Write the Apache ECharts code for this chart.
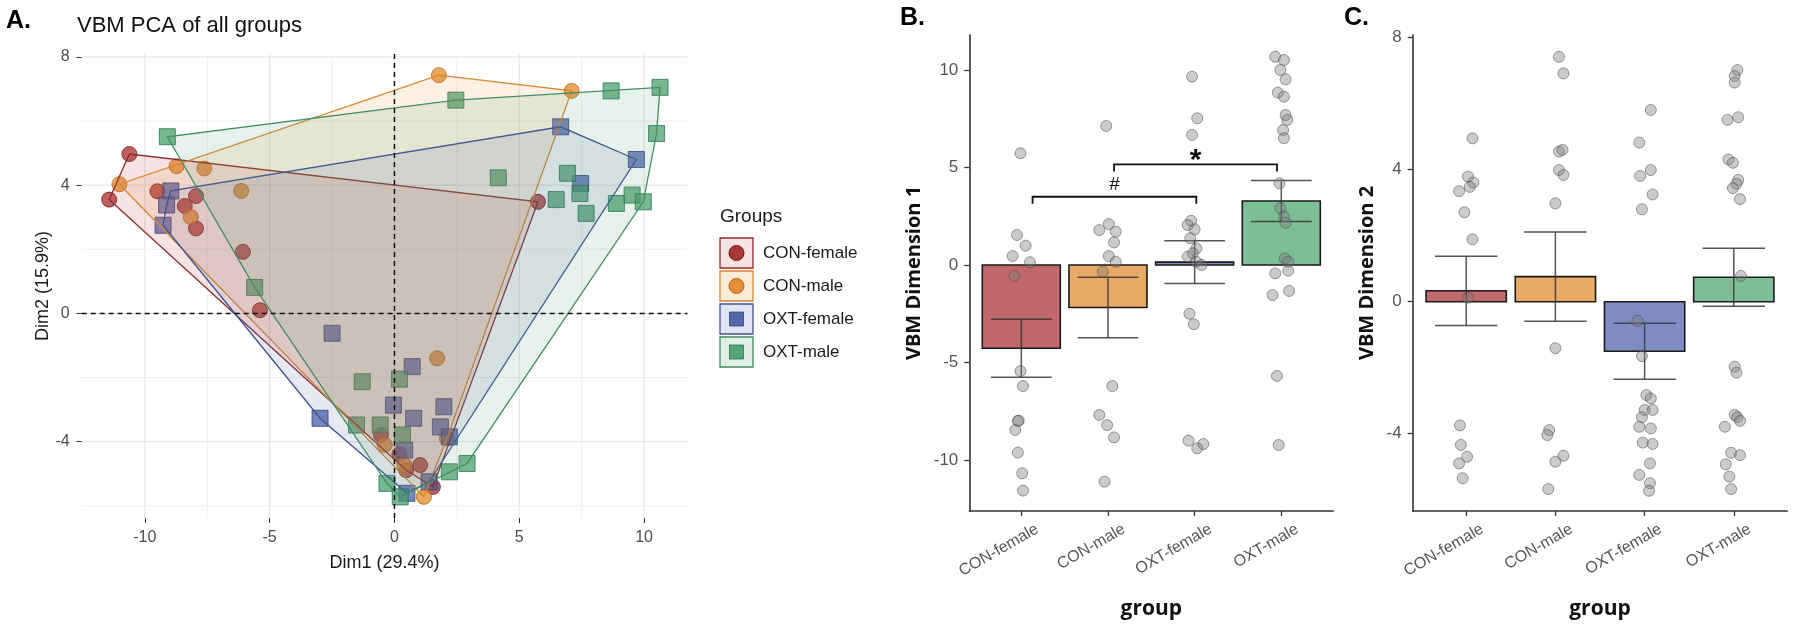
<!DOCTYPE html>
<html><head><meta charset="utf-8">
<script src="https://cdn.jsdelivr.net/npm/echarts@6/dist/echarts.min.js"></script>
<style>html,body{margin:0;padding:0;background:#fff}#c{width:1800px;height:630px}</style>
</head><body><div id="c"></div>
<script>
// ---------- data ----------
const groups = ['CON-female', 'CON-male', 'OXT-female', 'OXT-male'];

// Panel A: PCA individuals [Dim1, Dim2]
const pcaConFemale = [[-10.62,4.97],[-11.43,3.55],[-9.5,3.81],[-7.95,3.66],[-8.4,3.35],[-7.95,2.65],[-6.07,1.92],[-5.39,0.1],[5.75,3.48],[-0.54,-3.79],[0.2,-4.39],[1.03,-4.73],[0.47,-4.89],[1.54,-5.41]];
const pcaConMale = [[1.78,7.43],[7.1,6.94],[-11.02,4.03],[-8.73,4.59],[-7.62,4.52],[-6.14,3.82],[-8.16,3.01],[1.71,-1.4],[2.1,-3.9],[-0.39,-4.1],[1.18,-5.72],[0.4,-4.72]];
const pcaOxtFemale = [[6.66,5.82],[9.69,4.8],[7.46,4.05],[-8.96,3.82],[-9.13,3.38],[-9.27,2.75],[-2.5,-0.62],[0.71,-1.66],[-0.04,-2.86],[1.98,-2.91],[0.77,-3.27],[-2.98,-3.27],[1.84,-3.54],[2.2,-3.85],[0.41,-4.26],[0.5,-5.61],[1.39,-5.25]];
const pcaOxtMale = [[-9.1,5.51],[2.46,6.65],[8.68,6.94],[10.64,7.05],[10.5,5.61],[4.16,4.23],[6.93,4.37],[7.43,3.74],[6.48,3.55],[7.68,3.12],[8.89,3.43],[9.52,3.69],[9.97,3.48],[-5.6,0.81],[-1.29,-2.13],[0.2,-2.05],[-1.52,-3.48],[-0.57,-3.48],[0.32,-3.79],[2.91,-4.68],[2.2,-4.94],[-0.3,-5.3],[0.23,-5.72]];
const pcaXTicks = [-10, -5, 0, 5, 10];
const pcaYTicks = [-4, 0, 4, 8];
const pcaXGrid = [-10, -7.5, -5, -2.5, 0, 2.5, 5, 7.5, 10];
const pcaYGrid = [-6, -4, -2, 0, 2, 4, 6, 8];

// Panel B: VBM Dimension 1
const dim1Means = [-4.27, -2.18, 0.15, 3.28];
const dim1SE = [1.49, 1.55, 1.1, 1.05];
const dim1Ticks = [-10, -5, 0, 5, 10];
const dim1Y = [
  [5.73,1.54,0.99,0.46,0.14,-0.56,-5.44,-6.21,-7.98,-8.0,-8.46,-9.62,-10.68,-11.57],
  [7.13,2.10,1.79,1.71,1.16,0.46,0.17,-0.34,-6.21,-7.69,-8.21,-8.84,-11.11],
  [9.66,7.52,6.67,2.27,2.05,1.83,1.37,0.85,0.6,0.43,0.17,0.0,-2.5,-3.04,-9.01,-9.4,-9.18],
  [10.68,10.51,10.0,9.52,8.84,8.63,7.69,7.44,6.92,6.5,4.19,2.91,2.48,2.17,0.34,0.17,-0.43,-0.29,-1.54,-1.33,-5.69,-9.23]
];
const dim1Jitter = [
  [-0.01,-0.05,0.05,-0.1,0.1,-0.08,-0.01,0.02,-0.03,-0.04,-0.07,-0.04,0.01,0.02],
  [-0.02,0.01,-0.1,0.09,0.07,0.01,0.09,-0.06,0.05,-0.1,-0.01,0.07,-0.04],
  [-0.03,0.03,-0.03,-0.04,-0.08,0,-0.05,0.02,-0.02,-0.08,0.02,0.08,-0.06,-0.01,-0.07,0.03,0.1],
  [-0.07,0.03,-0.01,0.05,-0.04,0.03,0.05,0.07,0.02,0.03,-0.02,-0.01,0.03,0.05,0.04,0.08,-0.07,0.08,-0.1,0.09,-0.05,-0.03]
];
const sigLabels = ['#', '*'];
const sigFrom = [1.13, 2.07];
const sigTo = [3.02, 3.95];
const sigLevel = [3.5, 5.16];

// Panel C: VBM Dimension 2
const dim2Means = [0.33, 0.76, -1.5, 0.74];
const dim2SE = [1.05, 1.35, 0.85, 0.88];
const dim2Ticks = [-4, 0, 4, 8];
const dim2Y = [
  [4.95,3.79,3.61,3.48,3.35,2.71,1.89,0.12,-3.75,-4.34,-4.7,-4.9,-5.35],
  [7.42,6.92,4.55,4.6,3.99,3.84,2.98,-1.41,-3.89,-4.04,-4.67,-4.85,-5.68],
  [5.81,4.82,3.99,3.81,3.25,2.8,-0.58,-1.65,-2.83,-2.93,-3.28,-3.28,-3.5,-3.79,-3.84,-4.27,-4.31,-4.9,-5.25,-5.5,-5.73],
  [7.02,6.84,6.64,5.51,5.59,4.31,4.21,3.69,3.57,3.44,3.11,0.78,-1.97,-2.15,-3.43,-3.5,-3.61,-3.79,-4.58,-4.65,-4.93,-5.3,-5.68]
];
const dim2Jitter = [
  [0.07,0.02,0.08,0.04,-0.08,-0.02,0.07,0.02,-0.07,-0.06,0.01,-0.08,-0.04],
  [0.04,0.09,0.04,0.08,0.04,0.09,0,0,-0.07,-0.09,0.09,0,-0.08],
  [0.07,-0.06,0.07,-0.05,0.09,-0.03,-0.08,-0.03,0.02,0.07,0,0.09,-0.03,-0.06,0.07,-0.02,0.09,0.06,-0.06,0.06,0.05],
  [0.04,0.01,0.01,-0.07,0.05,-0.06,-0.01,0.05,0.03,-0.01,0.07,0.08,0.01,0.03,0.01,0.04,0.07,-0.1,-0.03,0.07,-0.09,-0.05,-0.03]
];

// ---------- styles ----------
const FONT = '"Liberation Sans", Arial, sans-serif';
const BOLDFONT = '"Open Sans", "Liberation Sans", Arial, sans-serif';
const pointColors = ['rgba(165,40,40,0.92)', 'rgba(226,135,38,0.92)', 'rgba(72,92,165,0.92)', 'rgba(72,158,108,0.92)'];
const borderColors = ['#701818', '#b36515', '#2c3f80', '#2b744c'];
const lineColors = ['#8e2b2b', '#d9862f', '#3e5396', '#3f8e60'];
const fillColors = ['rgba(190,60,55,0.14)', 'rgba(230,140,45,0.13)', 'rgba(75,95,166,0.13)', 'rgba(76,158,110,0.13)'];
const legendFill = ['#f6e3e2', '#fcebd9', '#e2e6f2', '#e1efe6'];
const symbols = ['circle', 'circle', 'rect', 'rect'];
const barColors = ['#c0686a', '#e8aa64', '#7f8cc4', '#7dbe96'];
const pcaData = [pcaConFemale, pcaConMale, pcaOxtFemale, pcaOxtMale];

function convexHull(points) {
  const p = points.slice().sort((a, b) => a[0] - b[0] || a[1] - b[1]);
  const cross = (o, a, b) => (a[0] - o[0]) * (b[1] - o[1]) - (a[1] - o[1]) * (b[0] - o[0]);
  const lower = [];
  for (const q of p) { while (lower.length >= 2 && cross(lower[lower.length - 2], lower[lower.length - 1], q) <= 0) lower.pop(); lower.push(q); }
  const upper = [];
  for (let i = p.length - 1; i >= 0; i--) { const q = p[i]; while (upper.length >= 2 && cross(upper[upper.length - 2], upper[upper.length - 1], q) <= 0) upper.pop(); upper.push(q); }
  upper.pop(); lower.pop();
  return lower.concat(upper);
}

const series = [];
// Panel A gridlines
series.push({
  type: 'custom', xAxisIndex: 0, yAxisIndex: 0, z: 0, silent: true,
  data: pcaXGrid.map(v => [v, 0]),
  renderItem: (params, api) => {
    const cs = params.coordSys; const v = api.value(0); const x = api.coord([v, 0])[0];
    return { type: 'line', shape: { x1: x, y1: cs.y, x2: x, y2: cs.y + cs.height },
      style: { stroke: (v % 5 === 0) ? '#e2e2e2' : '#efefef', lineWidth: 1 } };
  }
});
series.push({
  type: 'custom', xAxisIndex: 0, yAxisIndex: 0, z: 0, silent: true,
  data: pcaYGrid.map(v => [0, v]),
  renderItem: (params, api) => {
    const cs = params.coordSys; const v = api.value(1); const y = api.coord([0, v])[1];
    return { type: 'line', shape: { x1: cs.x, y1: y, x2: cs.x + cs.width, y2: y },
      style: { stroke: (v % 4 === 0) ? '#e2e2e2' : '#efefef', lineWidth: 1 } };
  }
});
// Panel A points
pcaData.forEach((d, i) => {
  series.push({
    type: 'scatter', name: groups[i], xAxisIndex: 0, yAxisIndex: 0, z: 2,
    symbol: symbols[i], symbolSize: symbols[i] === 'circle' ? 15 : 16,
    itemStyle: { color: pointColors[i], borderColor: borderColors[i], borderWidth: 1 },
    data: d
  });
});
// Panel A hulls
pcaData.forEach((d, i) => {
  const h = convexHull(d);
  series.push({
    type: 'custom', xAxisIndex: 0, yAxisIndex: 0, z: 3, silent: true,
    data: [h[0]],
    renderItem: (params, api) => ({
      type: 'polygon', shape: { points: h.map(p => api.coord(p)) },
      style: { fill: fillColors[i], stroke: lineColors[i], lineWidth: 1.3 }
    })
  });
});
// Panel A dashed zero lines
series.push({
  type: 'custom', xAxisIndex: 0, yAxisIndex: 0, z: 4, silent: true,
  data: [[0, 0]],
  renderItem: (params, api) => {
    const cs = params.coordSys; const p = api.coord([api.value(0), api.value(1)]);
    const st = { stroke: '#111', lineWidth: 1.5, lineDash: [5, 4] };
    return { type: 'group', children: [
      { type: 'line', shape: { x1: p[0], y1: cs.y, x2: p[0], y2: cs.y + cs.height }, style: st },
      { type: 'line', shape: { x1: cs.x, y1: p[1], x2: cs.x + cs.width, y2: p[1] }, style: st }
    ] };
  }
});

function addBarPanel(ax, means, ses, ys, jit) {
  series.push({
    type: 'custom', xAxisIndex: ax, yAxisIndex: ax, z: 2, silent: true,
    data: means.map((m, i) => [i + 1, m]),
    renderItem: (params, api) => {
      const c = api.value(0), m = api.value(1);
      const a = api.coord([c - 0.45, Math.max(m, 0)]), b = api.coord([c + 0.45, Math.min(m, 0)]);
      return { type: 'rect', shape: { x: a[0], y: a[1], width: b[0] - a[0], height: b[1] - a[1] },
        style: { fill: barColors[params.dataIndex], stroke: '#1a1a1a', lineWidth: 1.6 } };
    }
  });
  series.push({
    type: 'custom', xAxisIndex: ax, yAxisIndex: ax, z: 3, silent: true,
    data: means.map((m, i) => [i + 1, m, ses[i]]),
    renderItem: (params, api) => {
      const c = api.value(0), m = api.value(1), s = api.value(2);
      const top = api.coord([c, m + s]), bot = api.coord([c, m - s]);
      const l = api.coord([c - 0.35, 0])[0], r = api.coord([c + 0.35, 0])[0];
      const st = { stroke: 'rgba(55,55,55,0.85)', lineWidth: 1.5 };
      return { type: 'group', children: [
        { type: 'line', shape: { x1: top[0], y1: top[1], x2: bot[0], y2: bot[1] }, style: st },
        { type: 'line', shape: { x1: l, y1: top[1], x2: r, y2: top[1] }, style: st },
        { type: 'line', shape: { x1: l, y1: bot[1], x2: r, y2: bot[1] }, style: st }
      ] };
    }
  });
  const pts = [];
  ys.forEach((arr, g) => arr.forEach((y, k) => pts.push([g + 1 + jit[g][k], y])));
  series.push({
    type: 'scatter', xAxisIndex: ax, yAxisIndex: ax, z: 4, symbol: 'circle', symbolSize: 11,
    itemStyle: { color: 'rgba(125,125,125,0.5)', borderColor: 'rgba(70,70,70,0.65)', borderWidth: 1 },
    data: pts
  });
  // category labels (rotated)
  series.push({
    type: 'custom', xAxisIndex: ax, yAxisIndex: ax, z: 5, silent: true, clip: false,
    data: groups.map((g, i) => [i + 1, 0]),
    renderItem: (params, api) => {
      const cs = params.coordSys; const x = api.coord([api.value(0), 0])[0];
      return { type: 'text', x: x + 16, y: cs.y + cs.height + 17, rotation: Math.PI / 6,
        style: { text: groups[params.dataIndex], fill: '#555', font: '16px ' + FONT, align: 'right', verticalAlign: 'middle' } };
    }
  });
}
addBarPanel(1, dim1Means, dim1SE, dim1Y, dim1Jitter);
addBarPanel(2, dim2Means, dim2SE, dim2Y, dim2Jitter);

// significance brackets (panel B)
series.push({
  type: 'custom', xAxisIndex: 1, yAxisIndex: 1, z: 5, silent: true,
  data: sigLabels.map((s, i) => [sigFrom[i], sigLevel[i], sigTo[i]]),
  renderItem: (params, api) => {
    const a = api.coord([api.value(0), api.value(1)]), b = api.coord([api.value(2), api.value(1)]);
    const lab = sigLabels[params.dataIndex];
    const star = lab === '*';
    return { type: 'group', children: [
      { type: 'polyline', shape: { points: [[a[0], a[1] + 7], a, b, [b[0], b[1] + 7]] },
        style: { stroke: '#111', lineWidth: 1.8, fill: null } },
      { type: 'text', x: (a[0] + b[0]) / 2, y: a[1] - (star ? 4 : 12),
        style: { text: lab, fill: '#111', font: star ? 'bold 30px ' + FONT : '19px ' + FONT, align: 'center', verticalAlign: 'middle' } }
    ] };
  }
});

function pcaAxisX() {
  return { type: 'value', gridIndex: 0, min: -12.53, max: 11.74,
    axisLine: { show: false, onZero: false },
    axisTick: { show: true, customValues: pcaXTicks, length: 5, lineStyle: { color: '#333', width: 1 } },
    axisLabel: { customValues: pcaXTicks, color: '#4d4d4d', fontSize: 16, fontFamily: FONT, margin: 12 },
    splitLine: { show: false },
    name: 'Dim1 (29.4%)', nameLocation: 'middle', nameGap: 36,
    nameTextStyle: { fontSize: 18, color: '#1a1a1a', fontFamily: FONT } };
}
function pcaAxisY() {
  return { type: 'value', gridIndex: 0, min: -6.38, max: 8.09,
    axisLine: { show: false, onZero: false },
    axisTick: { show: true, customValues: pcaYTicks, length: 5, lineStyle: { color: '#333', width: 1 } },
    axisLabel: { customValues: pcaYTicks, color: '#4d4d4d', fontSize: 16, fontFamily: FONT, margin: 12 },
    splitLine: { show: false },
    name: 'Dim2 (15.9%)', nameLocation: 'middle', nameGap: 30,
    nameTextStyle: { fontSize: 18, color: '#1a1a1a', fontFamily: FONT } };
}
function barAxisX(idx) {
  return { type: 'value', gridIndex: idx, min: 0.4, max: 4.6,
    axisLine: { show: true, onZero: false, lineStyle: { color: '#333', width: 1.6 } },
    axisTick: { show: true, customValues: [1, 2, 3, 4], length: 5, lineStyle: { color: '#333', width: 1.3 } },
    axisLabel: { show: false },
    splitLine: { show: false },
    name: 'group', nameLocation: 'middle', nameGap: 88,
    nameTextStyle: { fontSize: 21, fontWeight: 'bold', color: '#111', fontFamily: BOLDFONT } };
}
function barAxisY(idx, min, max, ticks, name, gap) {
  return { type: 'value', gridIndex: idx, min: min, max: max,
    axisLine: { show: true, onZero: false, lineStyle: { color: '#333', width: 1.6 } },
    axisTick: { show: true, customValues: ticks, length: 5, lineStyle: { color: '#333', width: 1.3 } },
    axisLabel: { customValues: ticks, color: '#555', fontSize: 17, fontFamily: FONT, margin: 11 },
    splitLine: { show: false },
    name: name, nameLocation: 'middle', nameGap: gap,
    nameTextStyle: { fontSize: 20, fontWeight: 'bold', color: '#111', fontFamily: BOLDFONT } };
}

// legend (graphic)
const legendEls = [{ type: 'text', left: 720, top: 207, style: { text: 'Groups', fill: '#1a1a1a', font: '19px ' + FONT } }];
groups.forEach((g, i) => {
  const y0 = 238 + 33 * i;
  legendEls.push({ type: 'rect', shape: { x: 720, y: y0, width: 33, height: 30 }, style: { fill: legendFill[i], stroke: lineColors[i], lineWidth: 1.3 } });
  if (symbols[i] === 'circle') {
    legendEls.push({ type: 'circle', shape: { cx: 736.5, cy: y0 + 15, r: 7.5 }, style: { fill: pointColors[i], stroke: borderColors[i], lineWidth: 1 } });
  } else {
    legendEls.push({ type: 'rect', shape: { x: 729.5, y: y0 + 8, width: 14, height: 14 }, style: { fill: pointColors[i], stroke: borderColors[i], lineWidth: 0.8 } });
  }
  legendEls.push({ type: 'text', x: 763, y: y0 + 15, style: { text: g, fill: '#1a1a1a', font: '17px ' + FONT, verticalAlign: 'middle' } });
});

const option = {
  animation: false,
  backgroundColor: '#fff',
  grid: [
    { left: 81.7, top: 54, width: 605.8, height: 464 },
    { left: 969.3, top: 35, width: 364, height: 476 },
    { left: 1412.7, top: 35, width: 374.6, height: 476 }
  ],
  xAxis: [pcaAxisX(), barAxisX(1), barAxisX(2)],
  yAxis: [pcaAxisY(),
    barAxisY(1, -12.615, 11.795, dim1Ticks, 'VBM Dimension 1', 45),
    barAxisY(2, -6.343, 8.082, dim2Ticks, 'VBM Dimension 2', 35)],
  graphic: [
    { type: 'text', left: 6, top: 9, style: { text: 'A.', fill: '#000', font: 'bold 25px ' + FONT } },
    { type: 'text', left: 77, top: 15, style: { text: 'VBM PCA of all groups', fill: '#111', font: '22px ' + FONT } },
    { type: 'text', left: 900, top: 6, style: { text: 'B.', fill: '#000', font: 'bold 25px ' + FONT } },
    { type: 'text', left: 1344, top: 6, style: { text: 'C.', fill: '#000', font: 'bold 25px ' + FONT } }
  ].concat(legendEls),
  series: series
};
const chart = echarts.init(document.getElementById('c'));
chart.setOption(option);
</script>
</body></html>
